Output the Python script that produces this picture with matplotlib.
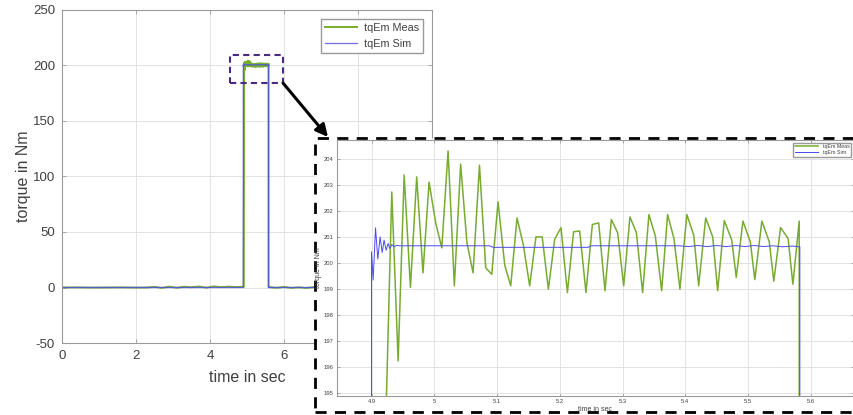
import numpy as np
import matplotlib
matplotlib.use("Agg")
import matplotlib.pyplot as plt
from matplotlib.patches import Rectangle

plt.rcParams['font.family'] = ['Liberation Sans Narrow', 'Liberation Sans', 'DejaVu Sans']
plt.rcParams['axes.unicode_minus'] = False

t_meas = [0.0, 0.4, 0.8, 1.2, 1.6, 2.0, 2.3, 2.5, 2.7, 2.9, 3.1, 3.3, 3.5,
          3.7, 3.9, 4.1, 4.3, 4.5, 4.7, 4.9, 4.912, 4.9223,
          4.9323, 4.9424, 4.952, 4.962, 4.972, 4.982, 4.9917, 5.0024, 5.012,
          5.022, 5.032, 5.042, 5.052, 5.0618, 5.072, 5.082, 5.0916, 5.1016,
          5.1123, 5.1218, 5.1319, 5.142, 5.152, 5.162, 5.172, 5.1818, 5.1919,
          5.2019, 5.2121, 5.222, 5.2317, 5.2417, 5.2519, 5.262, 5.272, 5.2822,
          5.2922, 5.3018, 5.3118, 5.322, 5.332, 5.342, 5.3522, 5.3623, 5.3718,
          5.3819, 5.3914, 5.4025, 5.4134, 5.4213, 5.4325, 5.4437, 5.4515,
          5.4621, 5.474, 5.4812, 5.4918, 5.5036, 5.5108, 5.522, 5.5338, 5.541,
          5.5518, 5.5638, 5.5714, 5.5815, 5.5818,
          5.8, 6.0, 6.2, 6.4, 6.6, 6.8, 7.2, 7.6, 8.0, 8.5, 9.0, 9.5, 10.0]
tq_meas = [0.0, 0.1, -0.1, 0.0, 0.1, -0.1, 0.0, 0.6, -0.4, 0.8, -0.3, 0.7, 0.2,
           0.9, -0.2, 1.0, 0.3, 0.8, 0.4, 0.6, 0.5, 193.5,
           202.75, 196.25, 203.4, 199.08, 203.33, 199.64, 203.13, 201.54, 200.6,
           204.33, 199.14, 203.82, 200.8, 199.64, 203.78, 199.83, 199.58, 202.37,
           199.93, 199.14, 201.75, 200.7, 199.14, 201.02, 201.02, 199.01, 200.93,
           201.38, 198.88, 201.22, 201.25, 198.88, 201.5, 201.56, 198.95, 201.69,
           201.18, 199.14, 201.79, 201.19, 198.88, 201.88, 201.06, 198.95, 201.88,
           200.96, 199.01, 201.88, 201.09, 199.14, 201.75, 201.02, 198.95,
           201.65, 200.9, 199.46, 201.63, 200.83, 199.38, 201.63, 200.83, 199.32,
           201.38, 200.96, 199.2, 201.63, 0.4,
           -0.3, 0.5, -0.4, 0.2, -0.5, 0.3, -0.2, 0.3, -0.1, 0.2, 0.0, 0.1, 0.0]

# simulated torque (tqEm Sim)
t_sim = [0.0, 4.8985, 4.9, 4.9026, 4.9064, 4.91, 4.9137, 4.917, 4.92, 4.9233,
         4.9265, 4.9291, 4.9323, 4.936, 4.94, 4.944, 5.088, 5.094, 5.245, 5.25,
         5.39, 5.405, 5.42, 5.435, 5.45, 5.465, 5.48, 5.495, 5.51, 5.525, 5.54,
         5.555, 5.57, 5.5825, 5.5827, 10.0]
tq_sim = [0.0, 0.0, 200.45, 199.36, 201.37, 200.17, 201.02, 200.42, 200.9, 200.51,
          200.77, 200.58, 200.73, 200.64, 200.70, 200.68, 200.68, 200.62, 200.62, 200.68,
          200.68, 200.65, 200.69, 200.65, 200.69, 200.65, 200.69, 200.65, 200.69, 200.65,
          200.68, 200.64, 200.67, 200.64, 0.0, 0.0]

# zoom window marked in the overview
zoom_t = (4.53, 5.965)
zoom_tq = (184.5, 209.5)

green = '#77ac30'
blue = '#4a4af0'
spine_c = '#9a9a9a'
grid_c = '#e3e3e3'
text_c = '#404040'

fig = plt.figure(figsize=(8.54, 4.15), dpi=100)
W, H = 854.0, 415.0


def matlab_style(ax, size, pad, tlen):
    for s in ax.spines.values():
        s.set_color(spine_c)
        s.set_linewidth(0.8)
    ax.tick_params(direction='in', top=True, right=True, length=tlen,
                   width=0.6, color=spine_c, labelsize=size, labelcolor=text_c,
                   pad=pad)
    ax.grid(True, color=grid_c, linewidth=0.7)
    ax.set_axisbelow(True)


# overview
ax = fig.add_axes([62 / W, 1 - 343 / H, 370 / W, 333 / H], zorder=0)
ax.plot(t_meas, tq_meas, color=green, lw=1.4, label='tqEm Meas')
ax.plot(t_sim, tq_sim, color=blue, lw=0.9, alpha=0.8, label='tqEm Sim')
ax.set_xlim(0, 10)
ax.set_ylim(-50, 250)
ax.set_xticks([0, 2, 4, 6, 8, 10])
ax.set_yticks([-50, 0, 50, 100, 150, 200, 250])
matlab_style(ax, 9.5, 5, 3)
ax.set_xlabel('time in sec', fontsize=11.5, color=text_c)
ax.set_ylabel('torque in Nm', fontsize=11.5, color=text_c)
ax.xaxis.set_label_coords(0.5, -0.08)
ax.yaxis.set_label_coords(-0.083, 0.5)
leg = ax.legend(loc='upper right', fontsize=7.8, handlelength=3.0,
                fancybox=False, framealpha=1, edgecolor=spine_c,
                borderaxespad=0.8, labelspacing=0.55, handletextpad=0.6)
for tx in leg.get_texts():
    tx.set_color(text_c)
ax.add_patch(Rectangle((zoom_t[0], zoom_tq[0]), zoom_t[1] - zoom_t[0],
                       zoom_tq[1] - zoom_tq[0], fill=False, ls=(0, (3, 2)),
                       lw=1.5, edgecolor='#4b2a82', zorder=5))

# white dashed frame behind the zoom
frame = Rectangle((315 / W, 1 - 412 / H), 560 / W, 274 / H,
                  transform=fig.transFigure, facecolor='white',
                  edgecolor='black', ls=(0, (4, 3)), lw=2.0, zorder=2)
fig.add_artist(frame)

ax.annotate('', xy=(328, H - 137), xycoords='figure pixels',
            xytext=(283, H - 83), textcoords='figure pixels',
            arrowprops=dict(arrowstyle='-|>', color='black', lw=2.2,
                            mutation_scale=18, shrinkA=0, shrinkB=0),
            zorder=6, annotation_clip=False)

# zoomed view
axi = fig.add_axes([337 / W, 1 - 396 / H, 516.5 / W, 256 / H], zorder=3)
axi.plot(t_meas, tq_meas, color=green, lw=1.1, label='tqEm Meas')
axi.plot(t_sim, tq_sim, color=blue, lw=0.7, label='tqEm Sim')
axi.set_xlim(4.845, 5.668)
axi.set_ylim(194.9, 204.75)
axi.set_xticks([4.9, 5.0, 5.1, 5.2, 5.3, 5.4, 5.5, 5.6])
axi.set_xticklabels(['4.9', '5', '5.1', '5.2', '5.3', '5.4', '5.5', '5.6'])
axi.set_yticks([195, 196, 197, 198, 199, 200, 201, 202, 203, 204])
matlab_style(axi, 4.2, 2.5, 2)
axi.set_xlabel('time in sec', fontsize=5, color=text_c)
axi.set_ylabel('torque in Nm', fontsize=5, color=text_c)
axi.xaxis.set_label_coords(0.5, -0.038)
axi.yaxis.set_label_coords(-0.03, 0.5)
legi = axi.legend(loc='upper right', fontsize=3.8, handlelength=4.5,
                  fancybox=False, framealpha=1, edgecolor=spine_c,
                  borderaxespad=0.5, labelspacing=0.2, borderpad=0.3)
for tx in legi.get_texts():
    tx.set_color(text_c)

fig.savefig('out.png', dpi=100)
